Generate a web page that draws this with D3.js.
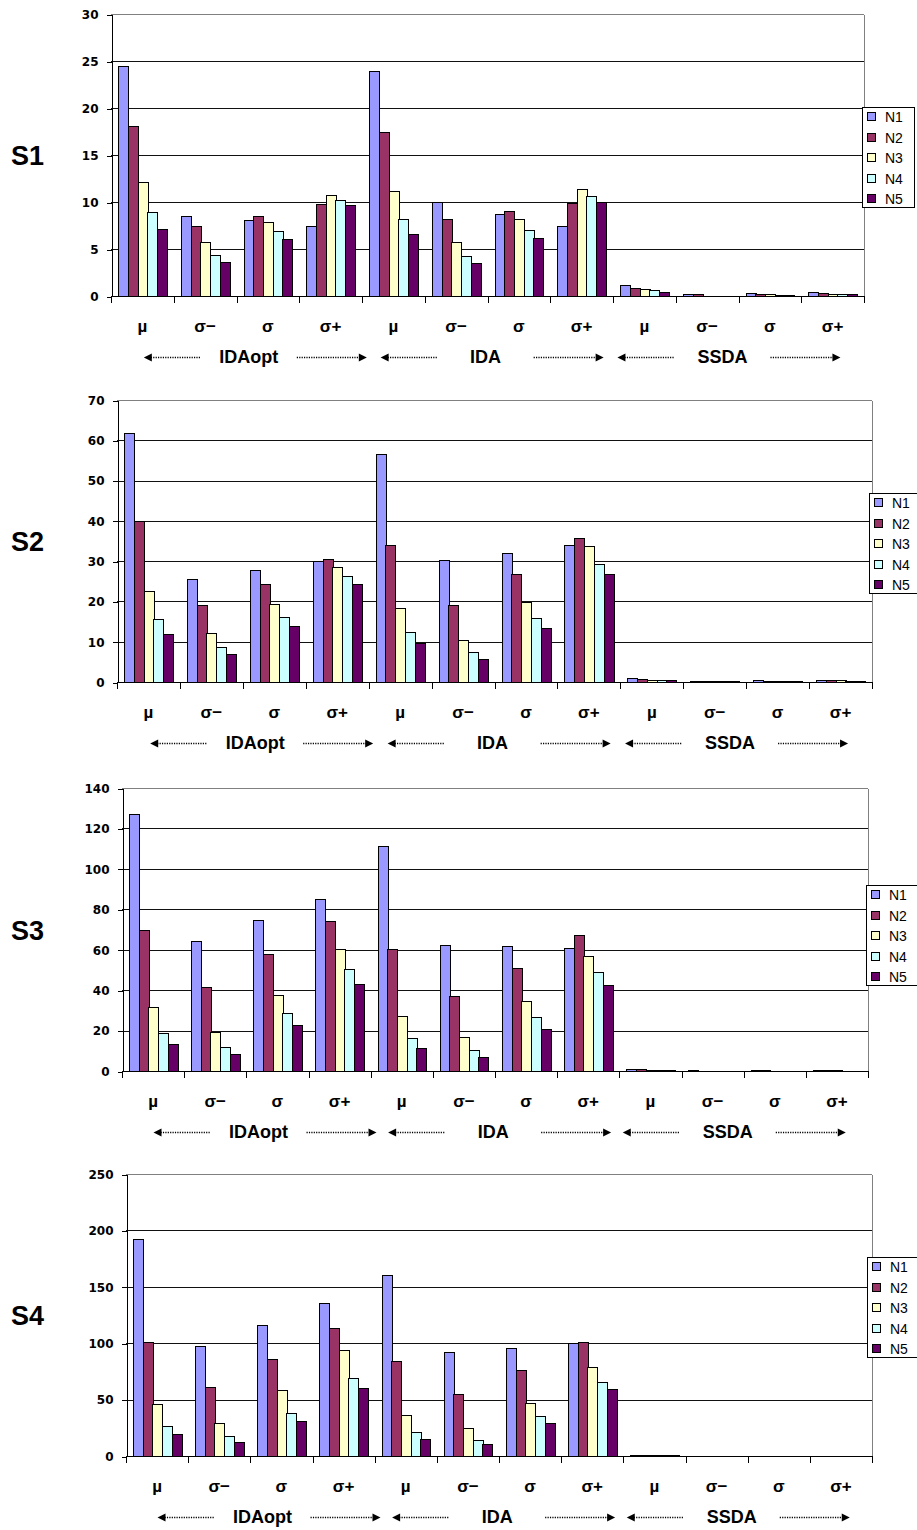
<!DOCTYPE html>
<html>
<head>
<meta charset="utf-8">
<script src="https://cdn.jsdelivr.net/npm/d3@7"></script>
<style>
  html, body { margin: 0; padding: 0; background: #fff; }
  svg { display: block; }
</style>
</head>
<body>
<svg id="chart" width="917" height="1530"></svg>
<script>
// Category layout: three methods, each with four statistics
const groups = ["IDAopt", "IDA", "SSDA"];
const stats = ["µ", "σ−", "σ", "σ+"];
const categories = groups.flatMap(g => stats.map(s => g + "|" + s));
const series = ["N1", "N2", "N3", "N4", "N5"];
const seriesColors = ["#9999FF", "#993366", "#FFFFCC", "#CCFFFF", "#660066"];

// Values per series (rows N1..N5), 12 categories each
const S1 = [
  [24.5, 8.5, 8.05, 7.5, 23.9, 10.0, 8.7, 7.4, 1.2, 0.25, 0.32, 0.4],
  [18.1, 7.4, 8.5, 9.8, 17.4, 8.2, 9.0, 9.9, 0.88, 0.22, 0.25, 0.32],
  [12.1, 5.7, 7.9, 10.7, 11.2, 5.7, 8.2, 11.4, 0.7, 0.05, 0.25, 0.25],
  [8.9, 4.4, 6.9, 10.2, 8.2, 4.3, 7.0, 10.6, 0.6, 0.05, 0.07, 0.25],
  [7.1, 3.6, 6.1, 9.7, 6.6, 3.5, 6.2, 10.0, 0.46, 0.05, 0.07, 0.25]
];
const S2 = [
  [61.7, 25.5, 27.7, 30.0, 56.7, 30.4, 31.9, 33.9, 1.0, 0.15, 0.4, 0.5],
  [40.0, 19.1, 24.4, 30.5, 34.0, 19.1, 26.7, 35.7, 0.75, 0.15, 0.2, 0.4],
  [22.5, 12.1, 19.3, 28.6, 18.3, 10.5, 19.8, 33.7, 0.5, 0.15, 0.2, 0.4],
  [15.7, 8.8, 16.1, 26.3, 12.5, 7.4, 15.8, 29.2, 0.5, 0.15, 0.2, 0.2],
  [12.0, 7.0, 13.9, 24.3, 9.8, 5.7, 13.4, 26.7, 0.5, 0.15, 0.2, 0.2]
];
const S3 = [
  [127.1, 64.5, 74.9, 85.3, 111.1, 62.2, 61.8, 61.0, 0.8, 0.3, 0.3, 0.4],
  [69.6, 41.6, 57.7, 74.4, 60.5, 37.3, 51.1, 67.3, 0.8, 0.1, 0.3, 0.4],
  [31.7, 19.5, 37.4, 60.2, 27.0, 17.0, 34.5, 57.1, 0.4, 0.1, 0.2, 0.3],
  [19.0, 11.9, 28.5, 50.5, 16.3, 10.4, 26.7, 49.1, 0.4, 0.1, 0.1, 0.2],
  [13.2, 8.2, 22.6, 43.2, 11.4, 6.9, 20.8, 42.5, 0.4, 0.1, 0.1, 0.1]
];
const S4 = [
  [192.4, 97.2, 116.4, 135.9, 160.5, 92.5, 96.0, 100.5, 0.8, 0.2, 0.2, 0.2],
  [101.4, 61.5, 86.0, 113.2, 83.9, 54.7, 75.9, 101.4, 0.8, 0.1, 0.1, 0.1],
  [46.1, 29.6, 58.2, 94.0, 36.6, 24.5, 47.0, 79.2, 0.8, 0.1, 0.1, 0.1],
  [26.9, 17.4, 38.1, 69.4, 21.6, 14.5, 35.2, 65.6, 0.8, 0.1, 0.1, 0.1],
  [19.2, 12.1, 30.7, 60.0, 15.1, 10.3, 29.0, 59.1, 0.8, 0.1, 0.1, 0.1]
];

// Y tick labels per panel
const ticksS1 = [0, 5, 10, 15, 20, 25, 30];
const ticksS2 = [0, 10, 20, 30, 40, 50, 60, 70];
const ticksS3 = [0, 20, 40, 60, 80, 100, 120, 140];
const ticksS4 = [0, 50, 100, 150, 200, 250];

const panelNames = ["S1", "S2", "S3", "S4"];

// Panel frames (plot area) and legend anchors
const panels = [
  { name: panelNames[0], values: S1, ticks: ticksS1, left: 111, right: 864, top: 14,  bottom: 296,  legX: 862, legY: 107 },
  { name: panelNames[1], values: S2, ticks: ticksS2, left: 117, right: 872, top: 400, bottom: 682,  legX: 869, legY: 493 },
  { name: panelNames[2], values: S3, ticks: ticksS3, left: 122, right: 868, top: 788, bottom: 1071, legX: 866, legY: 885 },
  { name: panelNames[3], values: S4, ticks: ticksS4, left: 126, right: 872, top: 1174, bottom: 1456, legX: 867, legY: 1257 }
];

const svg = d3.select("#chart");
svg.append("rect").attr("width", 917).attr("height", 1530).attr("fill", "#fff");

const px = v => Math.round(v) + 0.5;

panels.forEach(p => {
  const g = svg.append("g");
  const y = d3.scaleLinear().domain([0, d3.max(p.ticks)]).range([p.bottom, p.top]);
  const x0 = d3.scaleBand().domain(categories).range([p.left, p.right]).padding(0);
  const bw = x0.bandwidth();
  const x1 = d3.scaleBand().domain(series).range([bw * 0.112, bw * 0.888]).padding(0);

  // Gridlines
  g.append("g").selectAll("line").data(p.ticks.filter(t => t > 0)).join("line")
    .attr("x1", p.left).attr("x2", p.right)
    .attr("y1", d => px(y(d))).attr("y2", d => px(y(d)))
    .attr("stroke", d => d === d3.max(p.ticks) ? "#808080" : "#111")
    .attr("stroke-width", 1).attr("shape-rendering", "crispEdges");

  // Right border of the plot area
  g.append("line")
    .attr("x1", px(p.right)).attr("x2", px(p.right))
    .attr("y1", px(y(d3.max(p.ticks)))).attr("y2", px(p.bottom))
    .attr("stroke", "#808080").attr("shape-rendering", "crispEdges");

  // Bars
  const cells = [];
  p.values.forEach((row, si) => row.forEach((v, ci) => cells.push({ s: series[si], si, c: categories[ci], v })));
  g.append("g").selectAll("rect").data(cells).join("rect")
    .attr("x", d => Math.round(x0(d.c) + x1(d.s)) + 0.5)
    .attr("width", Math.round(x1.bandwidth()))
    .attr("y", d => Math.round(y(d.v)) + 0.5)
    .attr("height", d => Math.max(0, Math.round(y(0)) - Math.round(y(d.v))))
    .attr("fill", d => seriesColors[d.si])
    .attr("stroke", "#000").attr("stroke-width", 1)
    .attr("shape-rendering", "crispEdges");

  // Y axis
  const yAxis = d3.axisLeft(y).tickValues(p.ticks).tickSize(5).tickSizeOuter(0).tickPadding(8);
  const ya = g.append("g").attr("transform", `translate(${px(p.left)},0.5)`).call(yAxis);
  ya.select(".domain").attr("stroke", "#000").attr("shape-rendering", "crispEdges");
  ya.selectAll(".tick line").attr("stroke", "#000").attr("shape-rendering", "crispEdges");
  ya.selectAll(".tick text")
    .attr("font-family", "'DejaVu Sans', sans-serif").attr("font-weight", "bold")
    .attr("font-size", "12px").attr("fill", "#000");

  // X axis line with ticks at category boundaries
  const xa = g.append("g");
  xa.append("line").attr("x1", p.left).attr("x2", p.right + 1)
    .attr("y1", px(y(0))).attr("y2", px(y(0)))
    .attr("stroke", "#000").attr("shape-rendering", "crispEdges");
  const bounds = categories.map(c => x0(c)).concat([p.right]);
  xa.selectAll("line.tk").data(bounds).join("line").attr("class", "tk")
    .attr("x1", d => px(d)).attr("x2", d => px(d))
    .attr("y1", px(y(0))).attr("y2", px(y(0)) + 6)
    .attr("stroke", "#000").attr("shape-rendering", "crispEdges");

  // Category labels
  xa.selectAll("text.cat").data(categories).join("text").attr("class", "cat")
    .attr("x", d => x0(d) + bw / 2).attr("y", p.bottom + 36)
    .attr("text-anchor", "middle")
    .attr("font-family", "'Liberation Sans', Arial, sans-serif")
    .attr("font-weight", "bold").attr("font-size", "17px")
    .text(d => d.split("|")[1]);

  // Method labels with dotted arrows
  const W = p.right - p.left;
  const ay = p.bottom + 61;
  groups.forEach((name, gi) => {
    const c = p.left + W * (0.183 + 0.3145 * gi);
    const lg = g.append("g");
    lg.append("text").attr("x", c).attr("y", p.bottom + 67)
      .attr("text-anchor", "middle")
      .attr("font-family", "'Liberation Sans', Arial, sans-serif")
      .attr("font-weight", "bold").attr("font-size", "18px")
      .text(name);
    const la = c - 105, lb = c - 48, ra = c + 48, rb = c + 118;
    lg.append("line").attr("x1", la + 7).attr("x2", lb).attr("y1", ay + 0.5).attr("y2", ay + 0.5)
      .attr("stroke", "#000").attr("stroke-width", 1.3).attr("stroke-dasharray", "1.2,1.2");
    lg.append("path").attr("d", `M${la},${ay + 0.5}L${la + 8},${ay - 3.5}L${la + 8},${ay + 4.5}Z`).attr("fill", "#000");
    lg.append("line").attr("x1", ra).attr("x2", rb - 7).attr("y1", ay + 0.5).attr("y2", ay + 0.5)
      .attr("stroke", "#000").attr("stroke-width", 1.3).attr("stroke-dasharray", "1.2,1.2");
    lg.append("path").attr("d", `M${rb},${ay + 0.5}L${rb - 8},${ay - 3.5}L${rb - 8},${ay + 4.5}Z`).attr("fill", "#000");
  });

  // Panel label
  g.append("text").attr("x", 11).attr("y", (p.top + p.bottom) / 2 + 10)
    .attr("font-family", "'Liberation Sans', Arial, sans-serif")
    .attr("font-weight", "bold").attr("font-size", "27px")
    .text(p.name);

  // Legend
  const leg = g.append("g").attr("transform", `translate(${p.legX},${p.legY})`);
  leg.append("rect").attr("x", 0.5).attr("y", 0.5).attr("width", 52).attr("height", 100)
    .attr("fill", "#fff").attr("stroke", "#000").attr("shape-rendering", "crispEdges");
  const items = leg.selectAll("g.it").data(series).join("g").attr("class", "it")
    .attr("transform", (d, i) => `translate(0,${10 + 20.5 * i})`);
  items.append("rect").attr("x", 5.5).attr("y", -4.5).attr("width", 8).attr("height", 8)
    .attr("fill", (d, i) => seriesColors[i]).attr("stroke", "#000").attr("shape-rendering", "crispEdges");
  items.append("text").attr("x", 23).attr("y", 5)
    .attr("font-family", "'Liberation Sans', Arial, sans-serif")
    .attr("font-size", "14px").text(d => d);
});
</script>
</body>
</html>
